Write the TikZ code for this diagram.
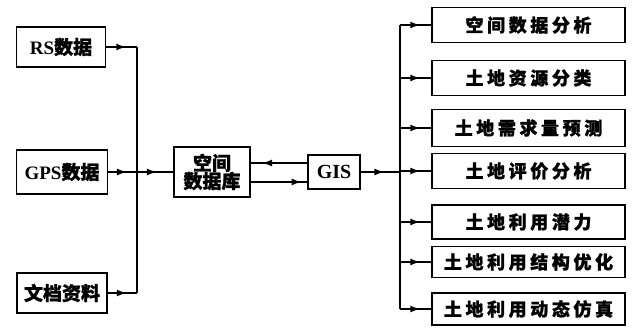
\documentclass[tikz,border=0pt]{standalone}
\usepackage{fontspec}
\setmainfont{Liberation Serif}
\newfontfamily\cjk{Noto Sans CJK SC}[FakeBold=1.2]
\newfontfamily\cjksp{Noto Sans CJK SC}[LetterSpace=20,FakeBold=1.2]
\usetikzlibrary{arrows.meta,decorations.markings}
\begin{document}
\begin{tikzpicture}[x=1pt,y=-1pt,
  box/.style={draw,line width=1.6pt,inner sep=0pt,font=\bfseries},
  link/.style={line width=1.6pt},
  midarrow/.style={link,postaction={decorate},decoration={markings,
     mark=at position #1 with {\arrow{Latex[length=10pt,width=7pt]}}}},
  midarrow/.default=0.55]
\useasboundingbox (0,0) rectangle (632,328);
% left inputs
\node[box,minimum width=89pt,minimum height=40pt,font=\bfseries\fontsize{19}{22}\selectfont] (rs) at (61,47) {RS{\cjk 数据}};
\node[box,minimum width=91pt,minimum height=44pt,font=\bfseries\fontsize{19}{22}\selectfont] (gps) at (62,172) {GPS{\cjk 数据}};
\node[box,minimum width=90pt,minimum height=40pt,font=\bfseries\fontsize{19}{22}\selectfont] (doc) at (62,293) {\cjk 文档资料};
\node[box,minimum width=76pt,minimum height=50pt,align=center,font=\bfseries\fontsize{19}{21}\selectfont] (db) at (212,172) {\cjk 空间\\[-3pt]\cjk 数据库};
\node[box,minimum width=52pt,minimum height=34pt,font=\bfseries\fontsize{20}{22}\selectfont] (gis) at (334,172) {GIS};
% right outputs
\tikzset{rbox/.style={box,minimum width=193pt,font=\bfseries\fontsize{18}{20}\selectfont\cjksp}}
\node[rbox,minimum height=35pt] (r1) at (528.5,25) {空间数据分析};
\node[rbox,minimum height=35pt] (r2) at (528.5,78) {土地资源分类};
\node[rbox,minimum height=37pt] (r3) at (528.5,128) {土地需求量预测};
\node[rbox,minimum height=35pt] (r4) at (528.5,171) {土地评价分析};
\node[rbox,minimum height=34pt] (r5) at (528.5,222) {土地利用潜力};
\node[rbox,minimum height=31pt] (r6) at (528.5,262) {土地利用结构优化};
\node[rbox,minimum height=32pt] (r7) at (528.5,309) {土地利用动态仿真};
% trunks
\coordinate (tL) at (137,0);
\coordinate (tR) at (400,0);
\draw[midarrow=0.65] (rs.east) -- (rs.east -| tL);
\draw[midarrow=0.65] (gps.east) -- (gps.east -| tL);
\draw[midarrow=0.65] (doc.east) -- (doc.east -| tL);
\draw[link] (rs.east -| tL) -- (doc.east -| tL);
\draw[midarrow=0.55] (gps.east -| tL) -- (db.west);
% db <-> gis
\draw[midarrow=0.8] (gis.west |- 0,163) -- (db.east |- 0,163);
\draw[midarrow=0.9] (db.east |- 0,182) -- (gis.west |- 0,182);
% gis to outputs
\draw[midarrow=0.6] (gis.east) -- (gis.east -| tR);
\draw[link] (r1.west -| tR) -- (r7.west -| tR);
\foreach \r in {r1,r2,r3,r4,r5,r6,r7}
  \draw[midarrow=0.65] (\r.west -| tR) -- (\r.west);
\end{tikzpicture}
\end{document}
